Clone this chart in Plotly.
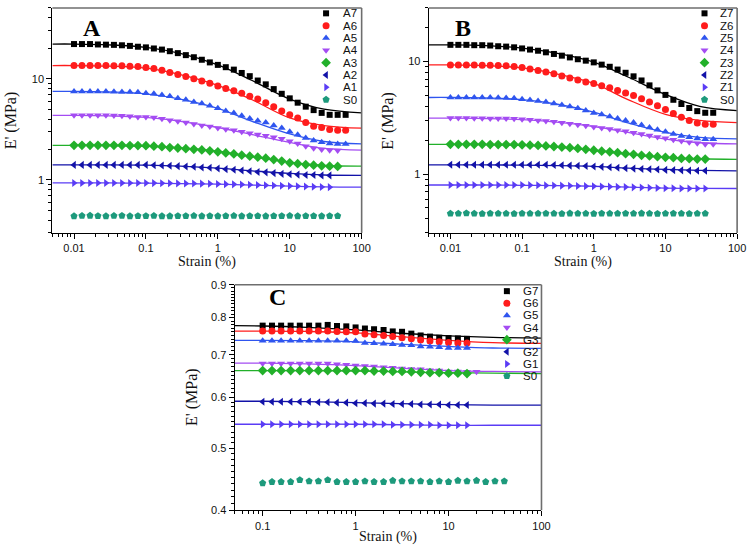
import math
import plotly.graph_objects as go

W, H = 756, 550

# ---------------- data ----------------
STRAIN_AB = [0.01, 0.0129, 0.0167, 0.0215, 0.0278, 0.0359, 0.0464, 0.0599, 0.0774, 0.1,
             0.129, 0.167, 0.215, 0.278, 0.359, 0.464, 0.599, 0.774, 1.0, 1.29,
             1.67, 2.15, 2.78, 3.59, 4.64, 5.99, 7.74, 10.0, 12.9, 16.7,
             21.5, 27.8, 35.9, 46.4, 59.9]
STRAIN_C = [0.1, 0.126, 0.158, 0.2, 0.251, 0.316, 0.398, 0.501, 0.631, 0.794,
            1.0, 1.26, 1.58, 2.0, 2.51, 3.16, 3.98, 5.01, 6.31, 7.94,
            10.0, 12.6, 15.8, 20.0, 25.1, 31.6, 39.8]
FIT_X_AB = [0.005, 0.01, 0.03, 0.1, 0.3, 1, 3, 10, 30, 100]
FIT_X_C = [0.05, 0.1, 0.3, 1, 3, 10, 30, 100]

# Panel A
A7 = [22.0, 22.0, 22.0, 21.8, 21.7, 21.6, 21.4, 21.1, 20.7, 20.4, 19.9, 19.4, 18.7, 17.9, 17.1, 16.3, 15.4, 14.5,
      13.7, 13.0, 12.3, 11.4, 10.6, 9.6, 8.8, 7.9, 7.1, 6.4, 5.8, 5.3, 4.9, 4.6, 4.4, 4.4, 4.4]
A6 = [13.5, 13.5, 13.5, 13.5, 13.5, 13.4, 13.4, 13.3, 13.2, 12.9, 12.6, 12.1, 11.5, 11.0, 10.5, 10.0, 9.5, 9.0,
      8.5, 8.0, 7.6, 7.2, 6.7, 6.3, 5.8, 5.3, 4.8, 4.4, 4.1, 3.7, 3.4, 3.3, 3.15, 3.1, 3.1]
A5 = [7.5, 7.5, 7.5, 7.5, 7.5, 7.45, 7.4, 7.4, 7.35, 7.2, 7.1, 6.9, 6.7, 6.4, 6.2, 5.9, 5.7, 5.4,
      5.1, 4.8, 4.6, 4.3, 4.06, 3.85, 3.7, 3.46, 3.27, 3.0, 2.8, 2.6, 2.46, 2.36, 2.29, 2.27, 2.27]
A4 = [4.35, 4.35, 4.35, 4.35, 4.35, 4.33, 4.3, 4.25, 4.2, 4.18, 4.15, 4.03, 3.9, 3.8, 3.7, 3.57, 3.46, 3.37,
      3.27, 3.17, 3.1, 2.99, 2.9, 2.82, 2.73, 2.65, 2.56, 2.41, 2.29, 2.15, 2.06, 2.0, 1.97, 1.96]
A3 = [2.2, 2.2, 2.2, 2.2, 2.2, 2.2, 2.2, 2.19, 2.19, 2.18, 2.16, 2.13, 2.09, 2.07, 2.04, 2.01, 1.98, 1.94,
      1.9, 1.85, 1.81, 1.76, 1.72, 1.68, 1.64, 1.59, 1.54, 1.48, 1.45, 1.42, 1.4, 1.38, 1.37, 1.36]
A2 = [1.41, 1.41, 1.41, 1.41, 1.41, 1.41, 1.41, 1.41, 1.41, 1.41, 1.40, 1.39, 1.38, 1.37, 1.36, 1.35, 1.33, 1.32,
      1.30, 1.28, 1.26, 1.24, 1.22, 1.20, 1.19, 1.17, 1.15, 1.14, 1.13, 1.12, 1.12, 1.11, 1.11]
A1 = [0.935, 0.935, 0.935, 0.935, 0.935, 0.935, 0.935, 0.935, 0.935, 0.933, 0.932, 0.930, 0.928, 0.926, 0.924,
      0.922, 0.92, 0.917, 0.914, 0.91, 0.906, 0.902, 0.897, 0.892, 0.887, 0.882, 0.876, 0.871, 0.866, 0.861,
      0.857, 0.853, 0.85]
S0_A = [0.44, 0.443, 0.445, 0.441, 0.44, 0.443, 0.444, 0.44, 0.442, 0.441, 0.443, 0.44, 0.44, 0.442, 0.441, 0.443,
        0.44, 0.442, 0.44, 0.441, 0.443, 0.44, 0.442, 0.441, 0.44, 0.442, 0.441, 0.443, 0.44, 0.442, 0.441, 0.44,
        0.442, 0.441]
FIT_A7 = [22.0, 22.0, 21.6, 20.4, 17.8, 13.7, 9.6, 6.3, 5.0, 4.6]
FIT_A6 = [13.5, 13.5, 13.3, 12.7, 11.0, 8.6, 6.2, 4.1, 3.45, 3.25]
FIT_A5 = [7.5, 7.5, 7.4, 7.1, 6.3, 5.1, 3.8, 2.85, 2.4, 2.27]
FIT_A4 = [4.35, 4.35, 4.3, 4.15, 3.8, 3.3, 2.8, 2.35, 2.05, 1.97]
FIT_A3 = [2.2, 2.2, 2.19, 2.15, 2.08, 1.93, 1.7, 1.5, 1.39, 1.37]
FIT_A2 = [1.41, 1.41, 1.41, 1.40, 1.37, 1.31, 1.23, 1.16, 1.12, 1.11]
FIT_A1 = [0.935, 0.935, 0.935, 0.93, 0.92, 0.91, 0.89, 0.87, 0.855, 0.85]

# Panel B
Z7 = [14.1, 14.1, 14.1, 14.0, 14.0, 13.9, 13.7, 13.6, 13.4, 13.1, 12.8, 12.5, 12.1, 11.7, 11.3, 10.9, 10.5, 10.2,
      9.85, 9.4, 9.0, 8.5, 7.96, 7.4, 6.8, 6.15, 5.55, 5.06, 4.58, 4.2, 3.87, 3.63, 3.51, 3.51]
Z6 = [9.35, 9.35, 9.35, 9.35, 9.3, 9.3, 9.25, 9.2, 9.05, 8.85, 8.6, 8.36, 8.1, 7.8, 7.45, 7.15, 6.88, 6.6,
      6.4, 6.1, 5.86, 5.55, 5.27, 5.0, 4.67, 4.37, 4.06, 3.75, 3.46, 3.21, 3.0, 2.85, 2.78, 2.78]
Z5 = [4.8, 4.8, 4.8, 4.8, 4.8, 4.8, 4.78, 4.76, 4.72, 4.64, 4.55, 4.47, 4.37, 4.25, 4.12, 4.0, 3.85, 3.68,
      3.5, 3.38, 3.26, 3.13, 3.0, 2.87, 2.74, 2.6, 2.48, 2.38, 2.27, 2.18, 2.13, 2.07, 2.04, 2.04]
Z4 = [3.15, 3.15, 3.15, 3.14, 3.14, 3.13, 3.13, 3.12, 3.1, 3.07, 3.04, 3.0, 2.97, 2.92, 2.86, 2.81, 2.75, 2.69,
      2.63, 2.57, 2.52, 2.46, 2.4, 2.33, 2.27, 2.21, 2.14, 2.08, 2.02, 1.97, 1.92, 1.88, 1.84, 1.84]
Z3 = [1.84, 1.84, 1.84, 1.84, 1.84, 1.83, 1.83, 1.83, 1.83, 1.82, 1.81, 1.8, 1.78, 1.76, 1.74, 1.72, 1.69, 1.66,
      1.63, 1.6, 1.58, 1.55, 1.52, 1.5, 1.47, 1.45, 1.43, 1.41, 1.4, 1.38, 1.37, 1.36, 1.36]
Z2 = [1.21, 1.21, 1.21, 1.21, 1.21, 1.21, 1.21, 1.21, 1.21, 1.21, 1.21, 1.21, 1.21, 1.205, 1.2, 1.19, 1.185, 1.18,
      1.17, 1.16, 1.15, 1.14, 1.13, 1.12, 1.11, 1.105, 1.1, 1.09, 1.085, 1.08, 1.075, 1.07, 1.07]
Z1 = [0.80, 0.80, 0.80, 0.80, 0.80, 0.80, 0.80, 0.80, 0.80, 0.80, 0.798, 0.796, 0.794, 0.792, 0.79, 0.788, 0.785,
      0.782, 0.78, 0.777, 0.774, 0.77, 0.767, 0.763, 0.76, 0.757, 0.753, 0.75, 0.748, 0.746, 0.746, 0.745, 0.745]
S0_B = [0.446, 0.446, 0.449, 0.446, 0.445, 0.447, 0.446, 0.446, 0.445, 0.447, 0.446, 0.446, 0.447, 0.446, 0.445,
        0.448, 0.446, 0.446, 0.445, 0.447, 0.446, 0.446, 0.447, 0.446, 0.448, 0.446, 0.445, 0.446, 0.447, 0.446,
        0.445, 0.446, 0.446]
FIT_Z7 = [14.1, 14.1, 13.9, 13.2, 11.9, 9.9, 7.3, 5.1, 4.0, 3.67]
FIT_Z6 = [9.35, 9.35, 9.2, 8.8, 7.8, 6.4, 4.6, 3.4, 3.0, 2.87]
FIT_Z5 = [4.8, 4.8, 4.75, 4.6, 4.2, 3.55, 2.85, 2.35, 2.12, 2.06]
FIT_Z4 = [3.15, 3.15, 3.12, 3.05, 2.9, 2.65, 2.35, 2.05, 1.9, 1.86]
FIT_Z3 = [1.84, 1.84, 1.83, 1.80, 1.74, 1.63, 1.50, 1.41, 1.37, 1.35]
FIT_Z2 = [1.21, 1.21, 1.21, 1.20, 1.19, 1.17, 1.13, 1.10, 1.08, 1.07]
FIT_Z1 = [0.80, 0.80, 0.80, 0.795, 0.79, 0.78, 0.765, 0.752, 0.746, 0.745]

# Panel C
G7 = [0.777, 0.777, 0.777, 0.777, 0.777, 0.777, 0.777, 0.779, 0.776, 0.775, 0.772, 0.769, 0.767, 0.765, 0.761,
      0.760, 0.755, 0.750, 0.747, 0.744, 0.743, 0.742, 0.741]
G6 = [0.762, 0.762, 0.762, 0.762, 0.762, 0.762, 0.762, 0.762, 0.761, 0.760, 0.760, 0.754, 0.752, 0.750, 0.747,
      0.744, 0.741, 0.738, 0.735, 0.733, 0.731, 0.730, 0.730]
G5 = [0.736, 0.736, 0.736, 0.736, 0.736, 0.736, 0.736, 0.736, 0.736, 0.736, 0.735, 0.730, 0.729, 0.728, 0.727,
      0.725, 0.724, 0.721, 0.720, 0.719, 0.717, 0.717, 0.717]
G4 = [0.678, 0.678, 0.678, 0.678, 0.678, 0.678, 0.678, 0.678, 0.676, 0.675, 0.673, 0.672, 0.671, 0.669, 0.668,
      0.666, 0.665, 0.664, 0.662, 0.661, 0.659, 0.659, 0.658, 0.658]
G3 = [0.661, 0.661, 0.661, 0.661, 0.661, 0.661, 0.661, 0.661, 0.661, 0.661, 0.661, 0.661, 0.660, 0.660, 0.659,
      0.659, 0.658, 0.657, 0.656, 0.656, 0.655, 0.655, 0.654]
G2 = [0.591, 0.591, 0.591, 0.591, 0.591, 0.591, 0.590, 0.590, 0.589, 0.589, 0.588, 0.588, 0.587, 0.587, 0.586,
      0.586, 0.586, 0.585, 0.585, 0.585, 0.584, 0.584, 0.584]
G1 = [0.545, 0.545, 0.545, 0.545, 0.545, 0.545, 0.545, 0.545, 0.545, 0.545, 0.545, 0.545, 0.545, 0.545, 0.544,
      0.544, 0.544, 0.544, 0.544, 0.543, 0.543, 0.543, 0.543]
S0_C = [0.441, 0.443, 0.443, 0.443, 0.446, 0.444, 0.444, 0.446, 0.443, 0.443, 0.443, 0.444, 0.443, 0.443, 0.445,
        0.444, 0.444, 0.444, 0.443, 0.444, 0.443, 0.445, 0.444, 0.445, 0.443, 0.444, 0.444]
FIT_G7 = [0.777, 0.776, 0.772, 0.765, 0.756, 0.749, 0.745, 0.743]
FIT_G6 = [0.762, 0.762, 0.761, 0.757, 0.747, 0.737, 0.731, 0.729]
FIT_G5 = [0.737, 0.737, 0.736, 0.733, 0.727, 0.721, 0.717, 0.716]
FIT_G4 = [0.679, 0.679, 0.677, 0.673, 0.667, 0.661, 0.659, 0.658]
FIT_G3 = [0.661, 0.661, 0.661, 0.660, 0.658, 0.656, 0.655, 0.654]
FIT_G2 = [0.592, 0.592, 0.591, 0.589, 0.587, 0.585, 0.584, 0.584]
FIT_G1 = [0.545, 0.545, 0.545, 0.545, 0.544, 0.543, 0.543, 0.543]

LABELS_A = ["A7", "A6", "A5", "A4", "A3", "A2", "A1", "S0"]
LABELS_B = ["Z7", "Z6", "Z5", "Z4", "Z3", "Z2", "Z1", "S0"]
LABELS_C = ["G7", "G6", "G5", "G4", "G3", "G2", "G1", "S0"]

# ---------------- styles ----------------
SYMBOLS = ["square", "circle", "triangle-up", "triangle-down", "diamond", "triangle-left", "triangle-right", "pentagon"]
COLORS = ["#000000", "#ff1c1c", "#2f55ef", "#a44cf2", "#22b02a", "#1212a8", "#5a3cf5", "#1d9a7c"]
SIZES = [6, 7, 7, 7, 7.5, 7, 7, 7.5]

SERIF = "Liberation Serif, Times New Roman, serif"
SANS = "Liberation Sans, Arial, sans-serif"

fig = go.Figure()

panels = [
    dict(xa="x", ya="y", labels=LABELS_A, xs=STRAIN_AB,
         ys=[A7, A6, A5, A4, A3, A2, A1, S0_A], fx=FIT_X_AB,
         fits=[FIT_A7, FIT_A6, FIT_A5, FIT_A4, FIT_A3, FIT_A2, FIT_A1]),
    dict(xa="x2", ya="y2", labels=LABELS_B, xs=STRAIN_AB,
         ys=[Z7, Z6, Z5, Z4, Z3, Z2, Z1, S0_B], fx=FIT_X_AB,
         fits=[FIT_Z7, FIT_Z6, FIT_Z5, FIT_Z4, FIT_Z3, FIT_Z2, FIT_Z1]),
    dict(xa="x3", ya="y3", labels=LABELS_C, xs=STRAIN_C,
         ys=[G7, G6, G5, G4, G3, G2, G1, S0_C], fx=FIT_X_C,
         fits=[FIT_G7, FIT_G6, FIT_G5, FIT_G4, FIT_G3, FIT_G2, FIT_G1]),
]

for p in panels:
    for k, fy in enumerate(p["fits"]):
        fig.add_trace(go.Scatter(x=p["fx"], y=fy, mode="lines", xaxis=p["xa"], yaxis=p["ya"],
                                 line=dict(color=COLORS[k], width=1.3, shape="spline", smoothing=1.0),
                                 showlegend=False, hoverinfo="skip"))
    for k, yv in enumerate(p["ys"]):
        fig.add_trace(go.Scatter(x=p["xs"][:len(yv)], y=yv, mode="markers", xaxis=p["xa"], yaxis=p["ya"],
                                 marker=dict(symbol=SYMBOLS[k], color=COLORS[k], size=SIZES[k], line=dict(width=0)),
                                 name=p["labels"][k], showlegend=False, cliponaxis=False))

# ---------------- layout ----------------
DOM = {
    "A": dict(x=[53 / W, 366 / W], y=[1 - 232 / H, 1 - 2 / H]),
    "B": dict(x=[434 / W, 746 / W], y=[1 - 232 / H, 1 - 2 / H]),
    "C": dict(x=[237.5 / W, 548 / W], y=[1 - 515.5 / H, 1 - 285 / H]),
}


def minor_vals(lo, hi):
    vals = []
    d = 1e-3
    while d < 1e3:
        for m in range(2, 10):
            v = m * d
            if lo * 0.999 <= v <= hi * 1.001:
                vals.append(round(v, 6))
        d *= 10
    return vals


def axis(dom, lo, hi, ticks, anchor):
    return dict(type="log", domain=dom, range=[math.log10(lo), math.log10(hi)],
                anchor=anchor, showgrid=False, zeroline=False, showline=True, linecolor="#000", linewidth=1.3,
                ticks="outside", ticklen=5, tickwidth=1.1, tickcolor="#000",
                tickmode="array", tickvals=ticks, ticktext=[("%g" % t) for t in ticks],
                tickfont=dict(family=SANS, size=11, color="#111"), fixedrange=True)


def minor_axis(dom, lo, hi, vals, anchor, overlay, side):
    return dict(type="log", domain=dom, range=[math.log10(lo), math.log10(hi)],
                anchor=anchor, overlaying=overlay, side=side, showgrid=False, zeroline=False, showline=False,
                ticks="outside", ticklen=3, tickwidth=1, tickcolor="#000",
                tickmode="array", tickvals=vals, showticklabels=False, fixedrange=True)


minor_c = [round(0.40 + 0.01 * i, 3) for i in range(1, 50) if i % 10 != 0]

fig.update_layout(
    width=W, height=H, margin=dict(l=0, r=0, t=0, b=0),
    paper_bgcolor="white", plot_bgcolor="rgba(0,0,0,0)", showlegend=False,
    xaxis=axis(DOM["A"]["x"], 0.005, 100, [0.01, 0.1, 1, 10, 100], "y"),
    yaxis=axis(DOM["A"]["y"], 0.3, 50, [1, 10], "x"),
    xaxis2=axis(DOM["B"]["x"], 0.005, 100, [0.01, 0.1, 1, 10, 100], "y2"),
    yaxis2=axis(DOM["B"]["y"], 0.3, 30, [1, 10], "x2"),
    xaxis3=axis(DOM["C"]["x"], 0.05, 100, [0.1, 1, 10, 100], "y3"),
    yaxis3=axis(DOM["C"]["y"], 0.4, 0.9, [0.4, 0.5, 0.6, 0.7, 0.8, 0.9], "x3"),
    xaxis5=minor_axis(DOM["A"]["x"], 0.005, 100, minor_vals(0.005, 100), "y", "x", "bottom"),
    yaxis5=minor_axis(DOM["A"]["y"], 0.3, 50, minor_vals(0.3, 50), "x", "y", "left"),
    xaxis6=minor_axis(DOM["B"]["x"], 0.005, 100, minor_vals(0.005, 100), "y2", "x2", "bottom"),
    yaxis6=minor_axis(DOM["B"]["y"], 0.3, 30, minor_vals(0.3, 30), "x2", "y2", "left"),
    xaxis7=minor_axis(DOM["C"]["x"], 0.05, 100, minor_vals(0.05, 100), "y3", "x3", "bottom"),
    yaxis7=minor_axis(DOM["C"]["y"], 0.4, 0.9, minor_c, "x3", "y3", "left"),
    xaxis4=dict(domain=[0, 1], range=[0, W], visible=False, anchor="y4", fixedrange=True),
    yaxis4=dict(domain=[0, 1], range=[H, 0], visible=False, anchor="x4", fixedrange=True),
)

for xa, ya in [("x5", "y5"), ("x6", "y6"), ("x7", "y7")]:
    fig.add_trace(go.Scatter(x=[1], y=[0.5], xaxis=xa, yaxis=ya, mode="markers",
                             marker=dict(opacity=0), showlegend=False, hoverinfo="skip"))

shapes = []
for ax in ["", "2", "3"]:
    shapes.append(dict(type="line", xref="x%s domain" % ax, yref="y%s domain" % ax, x0=0, x1=1, y0=1, y1=1,
                       line=dict(color="#6e6e6e", width=1.6)))
    shapes.append(dict(type="line", xref="x%s domain" % ax, yref="y%s domain" % ax, x0=1, x1=1, y0=0, y1=1,
                       line=dict(color="#6e6e6e", width=1.6)))
fig.update_layout(shapes=shapes)

annotations = []
title_specs = [
    ((53 + 366) / 2, 262, 12, 117),
    ((434 + 746) / 2, 262, 393, 117),
    ((237.5 + 548) / 2, 543, 195, 400),
]
for xc, yb, xl, yc in title_specs:
    annotations.append(dict(text="Strain (%)", xref="paper", yref="paper", x=xc / W, y=1 - yb / H,
                            showarrow=False, font=dict(family=SERIF, size=14, color="#111"),
                            xanchor="center", yanchor="middle"))
    annotations.append(dict(text="E' (MPa)", xref="paper", yref="paper", x=xl / W, y=1 - yc / H,
                            showarrow=False, textangle=-90, font=dict(family=SERIF, size=16, color="#111"),
                            xanchor="center", yanchor="middle"))

for letter, lx, ly in [("A", 93, 23), ("B", 469, 23), ("C", 281, 297)]:
    annotations.append(dict(text="<b>%s</b>" % letter, xref="paper", yref="paper", x=lx / W, y=1 - ly / H,
                            showarrow=False, font=dict(family=SERIF, size=24, color="#000"),
                            xanchor="center", yanchor="middle"))

legend_specs = [
    (LABELS_A, 330, 345, 7.5, 12.6),
    (LABELS_B, 713, 727, 7.5, 12.6),
    (LABELS_C, 513, 527, 291.5, 12.4),
]
for labels, mx, tx, y0, dy in legend_specs:
    ys = [y0 + i * dy for i in range(len(labels))]
    for k, lab in enumerate(labels):
        fig.add_trace(go.Scatter(x=[mx], y=[ys[k]], xaxis="x4", yaxis="y4", mode="markers",
                                 marker=dict(symbol=SYMBOLS[k], color=COLORS[k], size=SIZES[k], line=dict(width=0)),
                                 showlegend=False, hoverinfo="skip"))
        annotations.append(dict(text=lab, xref="paper", yref="paper", x=tx / W, y=1 - ys[k] / H,
                                showarrow=False, font=dict(family=SANS, size=11.5, color="#111"),
                                xanchor="left", yanchor="middle"))

fig.update_layout(annotations=annotations)

fig.write_html("out.html")
